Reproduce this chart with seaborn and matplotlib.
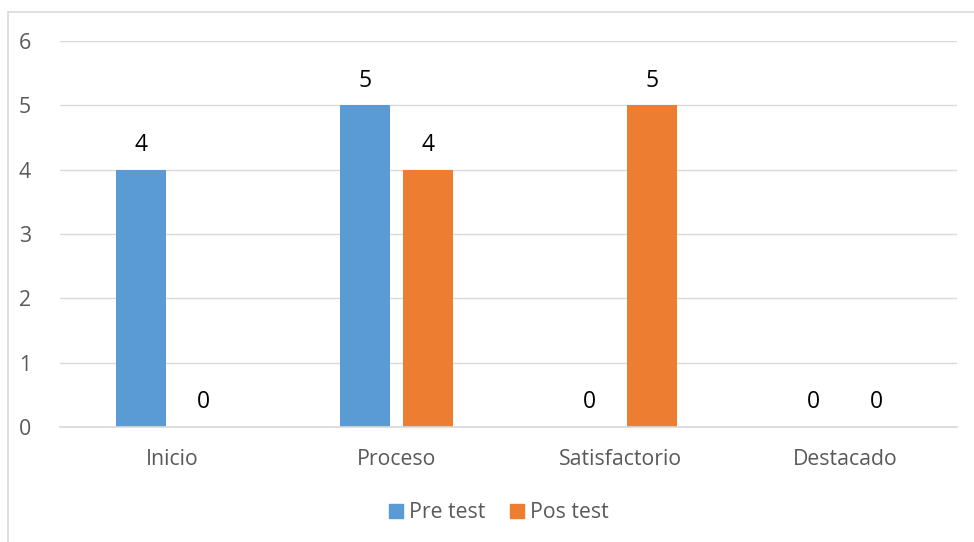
import matplotlib
matplotlib.use("Agg")
import matplotlib.pyplot as plt
import seaborn as sns
import pandas as pd
from matplotlib.lines import Line2D

categories = ["Inicio", "Proceso", "Satisfactorio", "Destacado"]
series_names = ["Pre test", "Pos test"]
pre_test = [4, 5, 0, 0]
pos_test = [0, 4, 5, 0]
y_ticks = [0, 1, 2, 3, 4, 5, 6]

colors = ["#5B9BD5", "#ED7D31"]

df = pd.DataFrame({
    "Nivel": categories * 2,
    "Serie": [series_names[0]] * len(categories) + [series_names[1]] * len(categories),
    "Valor": pre_test + pos_test,
})

sns.set_theme(style="white")
plt.rcParams["font.family"] = ["Open Sans", "DejaVu Sans"]

fig = plt.figure(figsize=(9.74, 5.42), dpi=100)
ax = fig.add_axes([0.0616, 0.2122, 0.9209, 0.7122])

sns.barplot(data=df, x="Nivel", y="Valor", hue="Serie", order=categories,
            hue_order=series_names, palette=colors, width=0.5625, gap=0.207,
            saturation=1, linewidth=0, ax=ax, legend=False)

for cont in ax.containers:
    ax.bar_label(cont, labels=[f"{int(v)}" for v in cont.datavalues],
                 padding=9, fontsize=16.5, color="#000000")

ax.set_ylim(0, 6)
ax.set_xlim(-0.5, 3.5)
ax.set_yticks(y_ticks)
ax.set_yticklabels([str(t) for t in y_ticks])
ax.grid(axis="y", color="#D9D9D9", linewidth=1.0)
ax.set_axisbelow(True)
for s in ["top", "right", "left"]:
    ax.spines[s].set_visible(False)
ax.spines["bottom"].set_color("#D9D9D9")
ax.set_xlabel("")
ax.set_ylabel("")
ax.tick_params(axis="both", length=0, labelsize=15.3, colors="#595959")
ax.tick_params(axis="y", pad=21)
ax.tick_params(axis="x", pad=16)

handles = [Line2D([], [], marker="s", linestyle="none", markersize=10,
                  markerfacecolor=c, markeredgecolor=c) for c in colors]
leg = fig.legend(handles, series_names, loc="center", bbox_to_anchor=(0.51, 0.054),
                 ncol=2, frameon=False, fontsize=15.3, handletextpad=0.1,
                 columnspacing=1.0, handlelength=1.0)
for t in leg.get_texts():
    t.set_color("#595959")

# outer chart frame
fig.add_artist(Line2D([0.0082, 0.0082], [0, 0.978], transform=fig.transFigure,
                      color="#D9D9D9", linewidth=1.2))
fig.add_artist(Line2D([0.0082, 1.0], [0.978, 0.978], transform=fig.transFigure,
                      color="#D9D9D9", linewidth=1.2))

fig.savefig("out.png", dpi=100)
